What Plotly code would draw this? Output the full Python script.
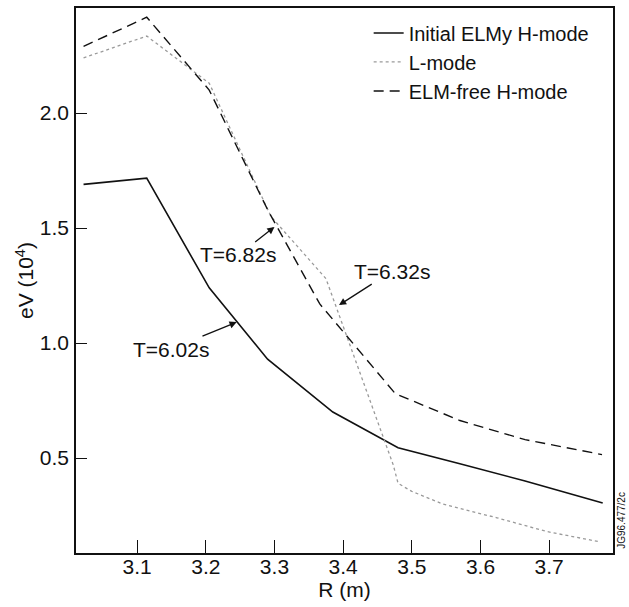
"""
Профили Te по радиусу R для трёх режимов (ELMy H, L, ELM-free H)
"""

import plotly.graph_objects as go

# === Данные ===
r_elmy = [3.022, 3.114, 3.205, 3.29, 3.385, 3.48, 3.57, 3.665, 3.778]
te_elmy = [1.69, 1.717, 1.24, 0.93, 0.70, 0.545, 0.475, 0.40, 0.304]

r_lmode = [3.022, 3.114, 3.205, 3.295, 3.375, 3.405, 3.442, 3.473, 3.48,
           3.50, 3.545, 3.624, 3.697, 3.775]
te_lmode = [2.24, 2.335, 2.13, 1.55, 1.28, 1.03, 0.72, 0.47, 0.39,
            0.355, 0.30, 0.24, 0.18, 0.135]

r_free = [3.022, 3.114, 3.205, 3.29, 3.366, 3.476, 3.57, 3.665, 3.777]
te_free = [2.29, 2.417, 2.10, 1.58, 1.17, 0.78, 0.663, 0.58, 0.515]

x_ticks = [3.1, 3.2, 3.3, 3.4, 3.5, 3.6, 3.7]
y_ticks = [0.5, 1.0, 1.5, 2.0]

# подписи моментов времени: (текст, R, Te, смещение текста в px)
time_labels = [
    ('T=6.82s', 3.30, 1.505, -36, 28),
    ('T=6.32s', 3.394, 1.165, 53, -34),
    ('T=6.02s', 3.245, 1.091, -66, 27),
]

FONT = 'Liberation Sans, Arial, Helvetica, sans-serif'

fig = go.Figure()

fig.add_trace(go.Scatter(
    x=r_elmy, y=te_elmy, mode='lines', name='Initial ELMy H-mode',
    line=dict(color='#111111', width=1.6)
))
fig.add_trace(go.Scatter(
    x=r_lmode, y=te_lmode, mode='lines', name='L-mode',
    line=dict(color='#9a9a9a', width=1.3, dash='dot')
))
fig.add_trace(go.Scatter(
    x=r_free, y=te_free, mode='lines', name='ELM-free H-mode',
    line=dict(color='#111111', width=1.4, dash='10px,6px')
))

# === Стрелки с временами ===
for text, rx, ty, ax, ay in time_labels:
    fig.add_annotation(
        x=rx, y=ty, text=text,
        ax=ax, ay=ay,
        showarrow=True, arrowhead=2, arrowsize=1.1, arrowwidth=1.3,
        arrowcolor='#111111',
        font=dict(family=FONT, size=21, color='#111111')
    )

# идентификатор рисунка справа
fig.add_annotation(
    x=1.0, y=0.06, xref='paper', yref='paper',
    xanchor='left', yanchor='middle', xshift=1,
    text='JG96.477/2c', textangle=-90, showarrow=False,
    font=dict(family=FONT, size=10, color='#111111')
)

# === Layout ===
fig.update_layout(
    width=629, height=607,
    paper_bgcolor='white',
    plot_bgcolor='white',
    font=dict(family=FONT, color='#111111', size=21),
    margin=dict(l=76, r=16, t=8, b=54),
    showlegend=True,
    legend=dict(
        x=0.545, y=0.99, xanchor='left', yanchor='top',
        bgcolor='rgba(0,0,0,0)',
        font=dict(family=FONT, size=20, color='#111111'),
        tracegroupgap=0,
    ),
)

fig.update_xaxes(
    range=[3.011, 3.793],
    tickvals=x_ticks,
    ticktext=[f'{v:.1f}' for v in x_ticks],
    ticks='inside', ticklen=13, tickwidth=1.3, tickcolor='#111111',
    ticklabelstandoff=-6,
    showline=True, linecolor='#111111', linewidth=1.5, mirror=True,
    showgrid=False, zeroline=False, automargin=False,
    title=dict(text='R (m)', standoff=0, font=dict(size=21))
)

fig.update_yaxes(
    range=[0.087, 2.457],
    tickvals=y_ticks,
    ticktext=[f'{v:.1f}' for v in y_ticks],
    ticks='inside', ticklen=11, tickwidth=1.3, tickcolor='#111111',
    ticklabelstandoff=1,
    showline=True, linecolor='#111111', linewidth=1.5, mirror=True,
    showgrid=False, zeroline=False, automargin=False,
    title=dict(text='eV (10<sup>4</sup>)', standoff=0, font=dict(size=21))
)

# убираем стандартный отступ body, чтобы рисунок занимал окно целиком
fig.write_html('out.html', config={'displayModeBar': False},
               post_script="document.body.style.margin='0';")
